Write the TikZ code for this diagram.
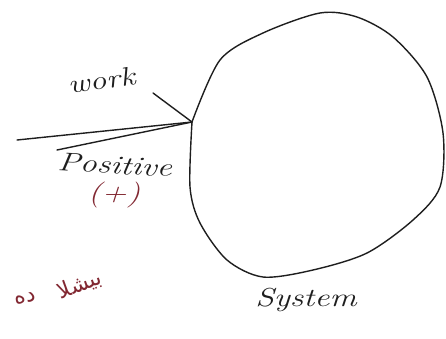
\documentclass[tikz,border=0pt]{standalone}
\usepackage{fontspec}
\newfontfamily\arabicfont[Script=Arabic]{DejaVu Sans}
\TeXXeTstate=1
\usetikzlibrary{positioning}
\definecolor{pen}{RGB}{30,30,30}
\definecolor{redpen}{RGB}{130,40,50}

\begin{document}
\begin{tikzpicture}[
  x=1pt, y=-1pt,
  ink/.style={draw=pen, line width=1.4pt, line cap=round, line join=round},
  hand/.style={text=pen, font=\fontsize{26}{28}\selectfont\itshape,
    inner sep=0pt, xscale=1.3},
  redhand/.style={hand, text=redpen},
  farsi/.style={text=redpen, inner sep=0pt,
    font=\fontsize{22}{24}\selectfont\arabicfont}
]
  \useasboundingbox (0,0) rectangle (446,338);

  % system boundary
  \coordinate (tip) at (192,122);
  \draw[ink] plot[smooth, tension=0.5] coordinates {
    (192,122) (220,60) (263,33) (320,13) (357,17) (393,37) (427,77)
    (443,133) (440,187) (413,220) (367,253) (313,270) (263,277)
    (227,260) (200,223) (190,187) (192,122)};

  % work arrow
  \coordinate (wlong) at (17,140);
  \coordinate (wshort) at (57,150);
  \coordinate (whead) at (153,93);
  \draw[ink] (wlong) -- (tip);
  \draw[ink] (wshort) -- (tip);
  \draw[ink] (whead) -- (tip);

  \node[hand, rotate=10] (work) at (101,80) {work};
  \node[hand, rotate=-4] (pos) at (115,165) {Positive};
  \node[redhand] (plus) [below=8pt of pos] {(+)};
  \node[hand] (sys) at (306,300) {System};
  \node[farsi, rotate=20] (fa) at (80,285) {\beginR بیشلا\endR};
  \node[farsi, rotate=10] (fb) at (25,298) {\beginR ده\endR};
\end{tikzpicture}
\end{document}
